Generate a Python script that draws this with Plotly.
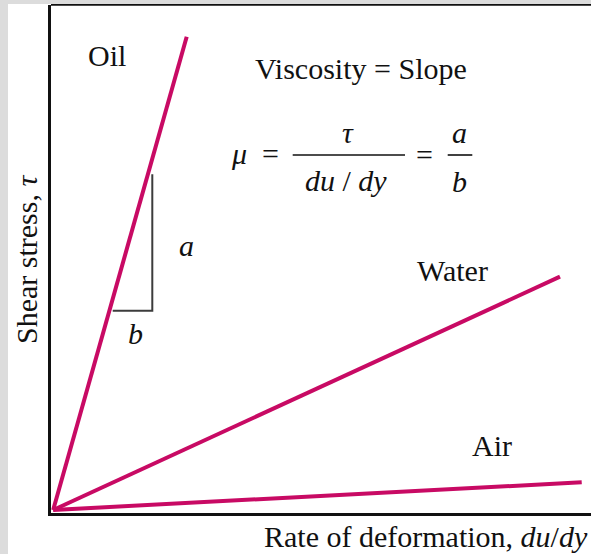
import plotly.graph_objects as go

# Newtonian fluids: shear stress grows linearly with rate of deformation
fluids = ["Oil", "Water", "Air"]
rate_start = [0.04, 0.04, 0.04]
stress_start = [0.06, 0.06, 0.06]
rate_end = [2.513, 9.426, 9.828]
stress_end = [9.376, 4.652, 0.604]

# slope triangle drawn against the oil line (run b, rise a)
tri_rate = [1.143, 1.876, 1.876]
tri_stress = [3.98, 3.98, 6.67]

W, H = 591, 554
ML, MR, MT, MB = 51, 0, 5, 41
PW, PH = W - ML - MR, H - MT - MB

LINE = "#c80a64"
INK = "#111111"
FONT = "Liberation Serif, Times New Roman, serif"
FS = 30


def paper(xp, yp):
    """Page pixel position -> paper coordinates."""
    return (xp - ML) / PW, (H - MB - yp) / PH


fig = go.Figure()

for name, x0, y0, x1, y1 in zip(fluids, rate_start, stress_start, rate_end, stress_end):
    fig.add_trace(go.Scatter(
        x=[x0, x1], y=[y0, y1], mode="lines", name=name,
        line=dict(color=LINE, width=4), hoverinfo="skip",
    ))

fig.add_trace(go.Scatter(
    x=tri_rate, y=tri_stress, mode="lines", name="slope",
    line=dict(color="#3c3c3c", width=2), hoverinfo="skip",
))

annotations = []


def label(text, xp, yp, size=FS, xanchor="center", angle=0):
    x, y = paper(xp, yp)
    annotations.append(dict(
        text=text, x=x, y=y, xref="paper", yref="paper",
        xanchor=xanchor, yanchor="middle", showarrow=False, textangle=angle,
        font=dict(family=FONT, size=size, color=INK),
    ))


label("Oil", 106.7, 55.5)
label("Viscosity = Slope", 361, 68)
label("<i>μ</i>  =", 255, 153)
label("<i>τ</i>", 348, 132)
label("<i>du</i> / <i>dy</i>", 346, 180)
label("=", 425, 154)
label("<i>a</i>", 459, 132)
label("<i>b</i>", 459, 181)
label("<i>a</i>", 186, 245)
label("<i>b</i>", 135, 333)
label("Water", 452.5, 270)
label("Air", 492.5, 445.5)
label("Rate of deformation, <i>du</i>/<i>dy</i>", 426, 536.7)
label("Shear stress, <i>τ</i>", 26, 260, angle=-90)

shapes = []


def hline_px(x0p, x1p, yp, color, width):
    a0, b = paper(x0p, yp)
    a1, _ = paper(x1p, yp)
    shapes.append(dict(type="line", xref="paper", yref="paper",
                       x0=a0, x1=a1, y0=b, y1=b,
                       line=dict(color=color, width=width)))


def rect_px(x0p, y0p, x1p, y1p, color):
    a0, b0 = paper(x0p, y0p)
    a1, b1 = paper(x1p, y1p)
    shapes.append(dict(type="rect", xref="paper", yref="paper",
                       x0=a0, x1=a1, y0=b0, y1=b1, layer="above",
                       line=dict(width=0), fillcolor=color))


# fraction bars
hline_px(292.7, 405, 155, INK, 1.6)
hline_px(447.7, 472.3, 155, INK, 1.6)
# top frame line
hline_px(ML, W, 4.8, INK, 1.8)
# grey page border on the left and top
rect_px(0, 0, 8, H, "#dcdcdc")
rect_px(0, 0, W, 4, "#dcdcdc")

fig.update_layout(
    width=W, height=H,
    margin=dict(l=ML, r=MR, t=MT, b=MB, pad=0),
    paper_bgcolor="white", plot_bgcolor="white",
    showlegend=False,
    xaxis=dict(range=[0, 10], showgrid=False, zeroline=False, showticklabels=False,
               ticks="", showline=True, linecolor=INK, linewidth=2.5, fixedrange=True),
    yaxis=dict(range=[0, 10], showgrid=False, zeroline=False, showticklabels=False,
               ticks="", showline=True, linecolor=INK, linewidth=2.5, fixedrange=True),
    annotations=annotations,
    shapes=shapes,
)

fig.write_html("out.html", config={"displayModeBar": False})
